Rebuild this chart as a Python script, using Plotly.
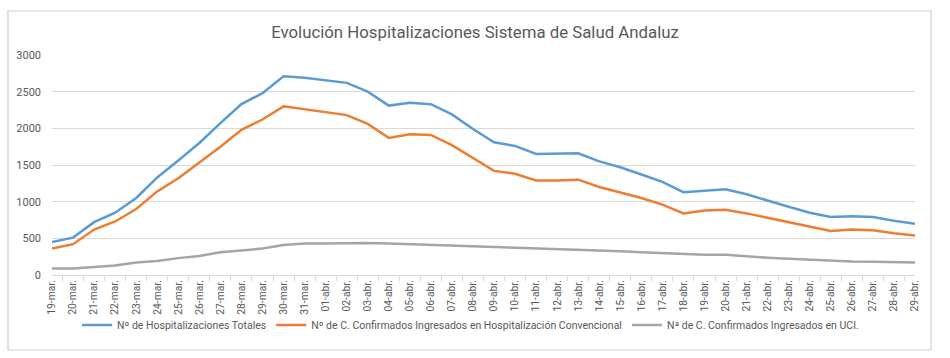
import plotly.graph_objects as go

categories = ["19-mar.", "20-mar.", "21-mar.", "22-mar.", "23-mar.", "24-mar.", "25-mar.",
              "26-mar.", "27-mar.", "28-mar.", "29-mar.", "30-mar.", "31-mar.",
              "01-abr.", "02-abr.", "03-abr.", "04-abr.", "05-abr.", "06-abr.", "07-abr.",
              "08-abr.", "09-abr.", "10-abr.", "11-abr.", "12-abr.", "13-abr.", "14-abr.",
              "15-abr.", "16-abr.", "17-abr.", "18-abr.", "19-abr.", "20-abr.", "21-abr.",
              "22-abr.", "23-abr.", "24-abr.", "25-abr.", "26-abr.", "27-abr.", "28-abr.",
              "29-abr."]

hosp_totales = [450, 510, 720, 850, 1050, 1330, 1560, 1800, 2070, 2330, 2480, 2710, 2690,
                2650, 2620, 2500, 2310, 2350, 2330, 2190, 1990, 1810, 1760, 1650, 1650,
                1660, 1550, 1470, 1370, 1270, 1130, 1150, 1170, 1100, 1010, 930, 850,
                790, 800, 790, 740, 700]

hosp_convencional = [360, 420, 620, 730, 900, 1140, 1320, 1530, 1750, 1980, 2120, 2300, 2260,
                     2210, 2180, 2060, 1870, 1920, 1910, 1770, 1590, 1420, 1380, 1290, 1290,
                     1300, 1200, 1130, 1050, 960, 840, 880, 890, 840, 780, 720, 660,
                     600, 620, 610, 570, 540]

uci = [90, 90, 110, 130, 170, 190, 230, 260, 310, 330, 360, 410, 430,
       430, 435, 435, 430, 420, 415, 410, 400, 380, 370, 360, 355,
       350, 335, 325, 310, 295, 280, 275, 275, 250, 235, 220, 205,
       190, 185, 180, 170, 170]

series_names = ["Nº de Hospitalizaciones Totales",
                "Nº de C. Confirmados Ingresados en Hospitalización Convencional",
                "Nª de C. Confirmados Ingresados en UCI."]
colors = ["#5B9BD5", "#ED7D31", "#A5A5A5"]

FONT = "Roboto"
TXT = "#595959"

fig = go.Figure()
for name, vals, col in zip(series_names, [hosp_totales, hosp_convencional, uci], colors):
    fig.add_trace(go.Scatter(x=categories, y=vals, mode="lines", name=name,
                             line=dict(color=col, width=2.5)))

W, H = 950, 358
L, R, T, B = 52, 35, 55, 83
pw = W - L - R
ph = H - T - B

def px_x(p):
    return (p - L) / pw

def px_y(p):
    return (H - B - p) / ph

fig.update_layout(
    width=W, height=H,
    margin=dict(l=L, r=R, t=T, b=B),
    paper_bgcolor="white", plot_bgcolor="white",
    font=dict(family=FONT, color=TXT, size=11),
    title=dict(text="Evolución Hospitalizaciones Sistema de Salud Andaluz",
               x=0.5, xanchor="center", y=1 - 32 / H, yanchor="middle",
               font=dict(family=FONT, size=16.8, color=TXT)),
    showlegend=True,
    legend=dict(orientation="h", x=0.485, xanchor="center", y=px_y(325), yanchor="middle",
                font=dict(family=FONT, size=10.5, color=TXT), itemwidth=30,
                bgcolor="rgba(0,0,0,0)"),
    xaxis=dict(type="category", showgrid=False, showline=True, linecolor="#D9D9D9",
               linewidth=1, ticks="outside", tickson="boundaries", ticklen=5,
               tickcolor="#D9D9D9", tickangle=-90,
               tickfont=dict(family=FONT, size=10.3, color=TXT)),
    yaxis=dict(range=[0, 3000], dtick=500, showgrid=True, gridcolor="#D9D9D9",
               gridwidth=1, zeroline=False, showline=False, ticks="",
               ticklabelstandoff=10,
               tickfont=dict(family=FONT, size=11, color=TXT)),
    shapes=[dict(type="rect", xref="paper", yref="paper",
                 x0=px_x(8), x1=px_x(931), y0=px_y(350), y1=px_y(11),
                 line=dict(color="#CFCFCF", width=1.2), layer="above")],
)

fig.write_html("out.html", config={"displayModeBar": False},
               post_script="document.body.style.margin='0';document.body.style.overflow='hidden';")
